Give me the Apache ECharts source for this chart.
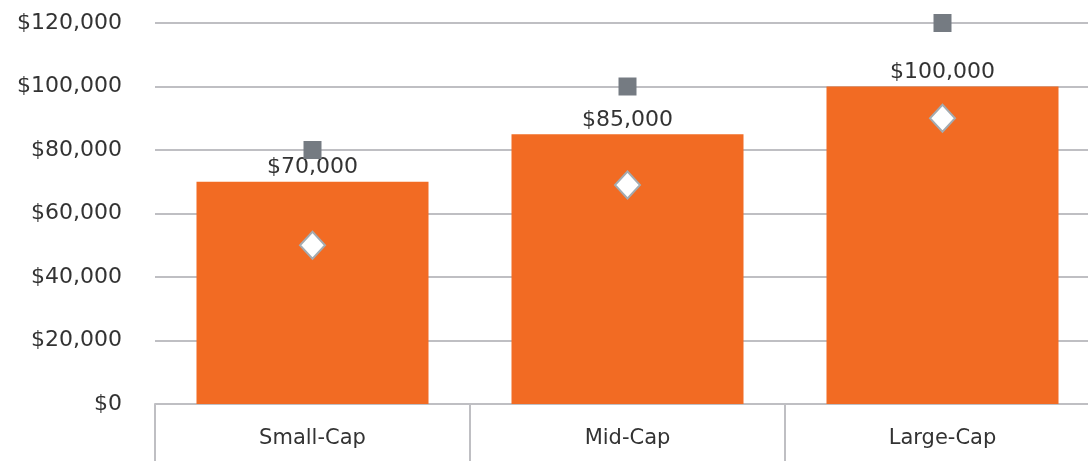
<!DOCTYPE html>
<html>
<head>
<meta charset="utf-8">
<script src="https://cdn.jsdelivr.net/npm/echarts@6/dist/echarts.min.js"></script>
<style>
  html, body { margin: 0; padding: 0; background: #fff; }
  #chart { width: 1088px; height: 461px; }
</style>
</head>
<body>
<div id="chart"></div>
<script>
const categories = ['Small-Cap', 'Mid-Cap', 'Large-Cap']
const barValues = [70000, 85000, 100000]
const squareValues = [80000, 100000, 120000]
const diamondValues = [50000, 69000, 90000]

const fmt = v => '$' + v.toLocaleString('en-US')
const font = '"DejaVu Sans", sans-serif'

const myChart = echarts.init(document.getElementById('chart'))
const option = {
  animation: false,
  grid: { left: 155, right: -12, top: 23, bottom: 57, outerBoundsMode: 'none' },
  xAxis: {
    type: 'category',
    data: categories,
    axisLine: { lineStyle: { color: '#bfbfc3', width: 2 } },
    axisTick: { show: true, length: 57, lineStyle: { color: '#bfbfc3', width: 2 } },
    axisLabel: { fontSize: 21, color: '#333', fontFamily: font, margin: 24 },
  },
  yAxis: {
    type: 'value',
    min: 0,
    max: 120000,
    interval: 20000,
    axisLine: { show: false },
    axisTick: { show: false },
    splitLine: { lineStyle: { color: '#bfbfc3', width: 2 } },
    axisLabel: {
      fontSize: 22,
      color: '#333',
      fontFamily: font,
      margin: 33,
      formatter: fmt,
    },
  },
  series: [
    {
      type: 'bar',
      data: barValues,
      barWidth: 232,
      itemStyle: { color: '#f26b23' },
      label: {
        show: true,
        position: 'top',
        distance: 3,
        fontSize: 22,
        color: '#333',
        fontFamily: font,
        formatter: p => fmt(p.value),
      },
    },
    {
      type: 'scatter',
      data: squareValues,
      symbol: 'rect',
      symbolSize: 18,
      itemStyle: { color: '#757b82', opacity: 1 },
      z: 5,
    },
    {
      type: 'scatter',
      data: diamondValues,
      symbol: 'diamond',
      symbolSize: [25, 27],
      itemStyle: { color: '#ffffff', borderColor: '#a3abb1', borderWidth: 2, opacity: 1 },
      z: 5,
    },
  ],
}
myChart.setOption(option)
</script>
</body>
</html>
